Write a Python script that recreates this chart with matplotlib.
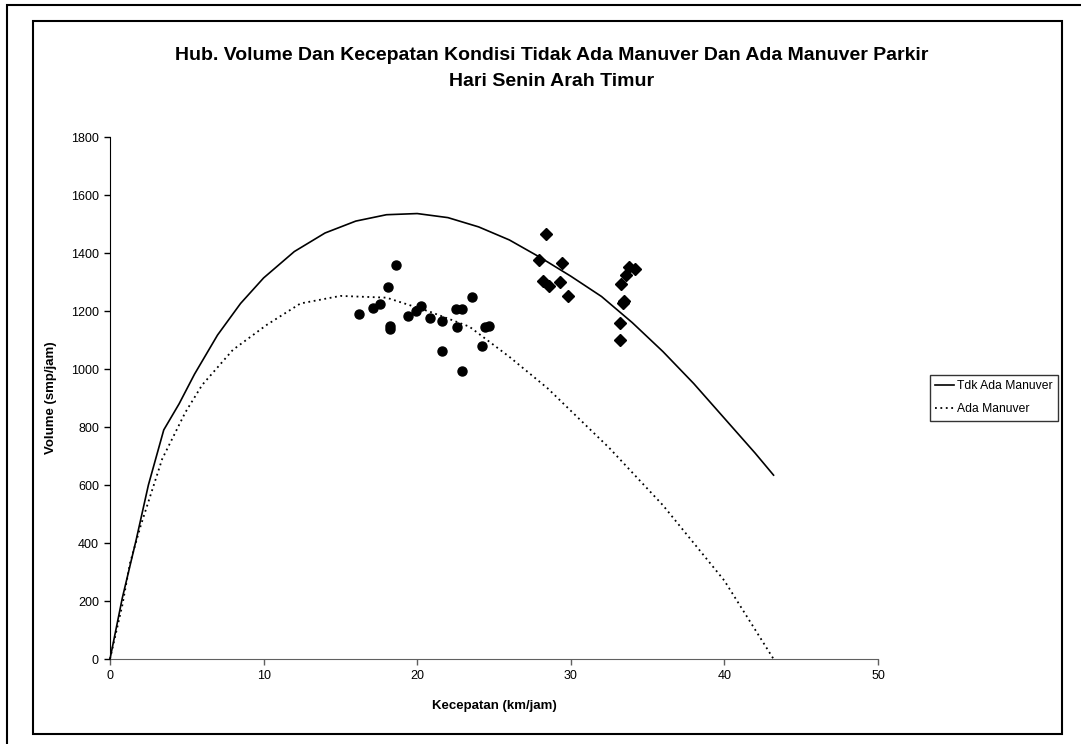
import matplotlib
matplotlib.use("Agg")
import matplotlib.pyplot as plt
from matplotlib.patches import Rectangle
from matplotlib.lines import Line2D

plt.rcParams['font.family'] = ['Liberation Sans', 'DejaVu Sans']

# Fitted curve: no parking manoeuvre (speed km/jam, volume smp/jam)
speed_tdk = [0, 0.8, 1.7, 2.5, 3.5, 4.5, 5.5, 7, 8.5, 10, 12, 14, 16, 18, 20,
             22, 24, 26, 28, 30, 32, 34, 36, 38, 40, 42, 43.2]
vol_tdk = [0, 210, 410, 600, 790, 880, 982, 1117, 1226, 1314, 1405, 1469, 1510,
           1532, 1536, 1522, 1490, 1445, 1385, 1320, 1250, 1160, 1060, 950, 830,
           710, 634]

# Fitted curve: with parking manoeuvre
speed_ada = [0, 0.8, 1.3, 2, 3.4, 4.9, 6, 8, 10.2, 12.4, 15, 18, 20.8, 23.4,
             26, 28.5, 30, 32.5, 36, 40, 43.2]
vol_ada = [0, 185, 330, 460, 690, 850, 945, 1066, 1152, 1226, 1252, 1246, 1198,
           1146, 1042, 933, 856, 728, 530, 270, 0]

# Observations with parking manoeuvre
obs_ada_speed = [16.2, 17.1, 17.6, 18.6, 18.1, 18.2, 18.2, 19.4, 19.9, 20.25,
                 20.85, 21.6, 21.6, 22.5, 22.9, 22.6, 22.9, 23.55, 24.25, 24.4, 24.7]
obs_ada_vol = [1189, 1209, 1224, 1358, 1284, 1148, 1137, 1184, 1201, 1218,
               1175, 1167, 1063, 1206, 1206, 1145, 994, 1249, 1080, 1145, 1149]

# Observations without parking manoeuvre
obs_tdk_speed = [27.9, 28.4, 28.2, 28.6, 29.4, 29.3, 29.8, 33.2, 33.2, 33.3,
                 33.4, 33.45, 33.6, 33.8, 34.15]
obs_tdk_vol = [1376, 1466, 1303, 1286, 1366, 1300, 1252, 1159, 1100, 1294,
               1229, 1235, 1324, 1352, 1345]

title_lines = ["Hub. Volume Dan Kecepatan Kondisi Tidak Ada Manuver Dan Ada Manuver Parkir",
               "Hari Senin Arah Timur"]
legend_labels = ['Tdk Ada Manuver', 'Ada Manuver']
x_ticks = [0, 10, 20, 30, 40, 50]
y_ticks = [0, 200, 400, 600, 800, 1000, 1200, 1400, 1600, 1800]

W, H = 1081, 744
fig = plt.figure(figsize=(W / 100, H / 100), dpi=100)
fig.patch.set_facecolor('white')

# Outer and chart-area frames
fig.add_artist(Rectangle((7 / W, 1 - 760 / H), 1100 / W, 755 / H,
                         transform=fig.transFigure, fill=False,
                         edgecolor='black', linewidth=1.5))
fig.add_artist(Rectangle((33 / W, 1 - 734 / H), (1062 - 33) / W, (734 - 21) / H,
                         transform=fig.transFigure, fill=False,
                         edgecolor='black', linewidth=1.5))

ax = fig.add_axes([110 / W, 1 - 659 / H, (878 - 110) / W, (659 - 137) / H])
ax.set_xlim(0, 50)
ax.set_ylim(0, 1800)
ax.set_xticks(x_ticks)
ax.set_yticks(y_ticks)
ax.tick_params(axis='both', direction='out', length=4, width=1, labelsize=9, pad=4)
for s in ['top', 'right']:
    ax.spines[s].set_visible(False)
ax.spines['left'].set_color('black')
ax.spines['bottom'].set_color('#606060')
ax.tick_params(axis='x', color='#606060')

ax.plot(speed_tdk, vol_tdk, color='black', linewidth=1.2, linestyle='-',
        clip_on=False, zorder=3)
ax.plot(speed_ada, vol_ada, color='black', linewidth=1.3, linestyle=(0, (1, 2)),
        clip_on=False, zorder=3)
ax.plot(obs_ada_speed, obs_ada_vol, linestyle='none', marker='o', markersize=6.5,
        color='black', zorder=4)
ax.plot(obs_tdk_speed, obs_tdk_vol, linestyle='none', marker='D', markersize=6,
        color='black', zorder=4)

ax.set_xlabel('Kecepatan (km/jam)', fontsize=9.5, fontweight='bold', labelpad=13)
ax.set_ylabel('Volume (smp/jam)', fontsize=9.5, fontweight='bold', labelpad=10)

fig.text(552 / W, 1 - 55 / H, title_lines[0], ha='center', va='center',
         fontsize=14, fontweight='bold')
fig.text(552 / W, 1 - 82 / H, title_lines[1], ha='center', va='center',
         fontsize=14, fontweight='bold')

handles = [Line2D([], [], color='black', linewidth=1.2, linestyle='-'),
           Line2D([], [], color='black', linewidth=1.3, linestyle=(0, (1, 2)))]
leg = fig.legend(handles, legend_labels,
                 loc='upper left', bbox_to_anchor=(930 / W, 1 - 375 / H),
                 fontsize=8.7, frameon=True, fancybox=False, handlelength=1.5,
                 handletextpad=0.25, borderpad=0.45, labelspacing=0.9,
                 borderaxespad=0)
leg.get_frame().set_edgecolor('black')
leg.get_frame().set_linewidth(1.0)

fig.savefig('out.png', dpi=100, facecolor='white')
